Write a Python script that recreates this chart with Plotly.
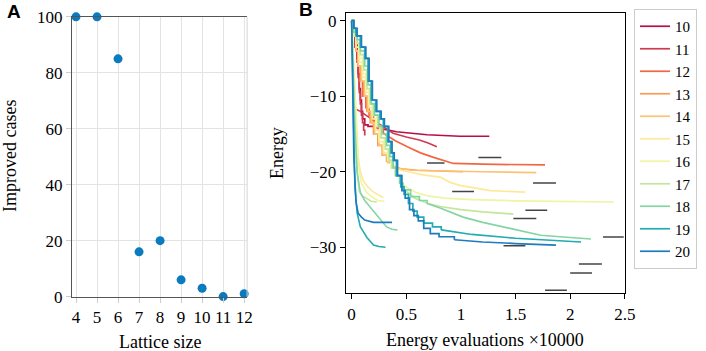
import plotly.graph_objects as go

# ---------------- Panel A data ----------------
lattice_sizes = [4, 5, 6, 7, 8, 9, 10, 11, 12]
improved_cases = [100, 100, 85, 16, 20, 6, 3, 0, 1]

# ---------------- Panel B data (energy vs evaluations x10000) ----------------
sizes = [10, 11, 12, 13, 14, 15, 16, 17, 18, 19, 20]
colors = ['#b80f47', '#cf3a4f', '#f26641', '#f99a55', '#fdc271', '#fee999',
          '#eef5a3', '#c5e59b', '#84d5a3', '#22abb0', '#1b7cc0']

# slow runs: staircase descent part
x10 = [0, 0.01, 0.03, 0.05, 0.06, 0.07, 0.08, 0.09, 0.10, 0.12, 0.15, 0.20]
e10 = [0, -1, -3, -5, -7, -9, -10.5, -12, -13, -13.8, -14.0, -14.1]
x11 = [0, 0.01, 0.03, 0.05, 0.06, 0.07, 0.08, 0.09, 0.10, 0.11, 0.12]
e11 = [0, -1.5, -3.5, -5.5, -7.5, -9.5, -11, -12.5, -13.5, -14.5, -15.2]
x12 = [0, 0.02, 0.04, 0.06, 0.08, 0.10, 0.13, 0.16, 0.20, 0.24, 0.29]
e12 = [0, -2, -4, -6, -8, -10, -11.5, -12.5, -13.5, -14.3, -14.9]
x13 = [0, 0.02, 0.04, 0.06, 0.08, 0.11, 0.14, 0.17, 0.20, 0.24, 0.28, 0.32, 0.37]
e13 = [0, -2, -4, -6, -8, -10, -12, -13.5, -15, -16.5, -17.8, -18.6, -19.2]
x14 = [0, 0.02, 0.04, 0.06, 0.09, 0.12, 0.15, 0.18, 0.21, 0.25, 0.29, 0.33, 0.38]
e14 = [0, -2, -4, -6, -8, -10, -12, -13.5, -15, -16.5, -17.8, -18.8, -19.3]
x15 = [0, 0.02, 0.04, 0.07, 0.10, 0.13, 0.16, 0.19, 0.22, 0.25, 0.29, 0.33, 0.37]
e15 = [0, -2, -3.5, -5.5, -7.5, -9.5, -11.5, -13, -14.5, -16, -17.5, -18.5, -19.3]
x16 = [0, 0.02, 0.04, 0.07, 0.10, 0.13, 0.16, 0.19, 0.23, 0.26, 0.30, 0.33, 0.36, 0.40, 0.45]
e16 = [0, -1.5, -3, -5, -7, -9, -11, -12.5, -14, -15.5, -17, -18.5, -19.5, -20.5, -21.5]
x17 = [0, 0.02, 0.05, 0.08, 0.11, 0.14, 0.17, 0.20, 0.24, 0.27, 0.31, 0.34, 0.37, 0.40, 0.44]
e17 = [0, -1.5, -3, -4.5, -6.5, -9, -11, -12.5, -14, -15.5, -17, -18.5, -19.5, -20.5, -21.5]
x18 = [0, 0.02, 0.05, 0.08, 0.12, 0.15, 0.18, 0.21, 0.25, 0.28, 0.32, 0.35, 0.38, 0.41, 0.44, 0.47, 0.54, 0.62, 0.69]
e18 = [0, -1.5, -2.5, -4, -6, -8.5, -11, -12.5, -14, -15, -16.5, -18, -19.5, -20.5, -21.5, -22.4, -23.3, -23.8, -24.2]
x19 = [0, 0.02, 0.04, 0.08, 0.12, 0.15, 0.18, 0.22, 0.26, 0.29, 0.33, 0.36, 0.38, 0.41, 0.45, 0.48, 0.52, 0.56, 0.60, 0.66, 0.74, 0.82]
e19 = [0, -1, -2, -3.5, -5, -8, -10.5, -12, -13, -14, -16, -17.5, -18.5, -20.5, -22.0, -23.0, -24.2, -25.2, -26.0, -26.8, -27.3, -27.7]
x20 = [0, 0.02, 0.05, 0.09, 0.13, 0.16, 0.19, 0.23, 0.27, 0.30, 0.34, 0.37, 0.39, 0.42, 0.46, 0.49, 0.53, 0.57, 0.61, 0.66, 0.72, 0.80, 0.94]
e20 = [0, -1, -2, -3.5, -5, -8, -10.5, -12, -13, -14, -16, -17.5, -18.5, -20.5, -22.5, -23.5, -25, -25.8, -26.5, -27.5, -28.2, -28.6, -29.0]

# slow runs: slowly converging tail part
tx10 = [0.20, 0.30, 0.41, 0.55, 0.69, 0.99, 1.26]
te10 = [-14.1, -14.4, -14.7, -14.9, -15.1, -15.3, -15.3]
tx12 = [0.29, 0.40, 0.51, 0.63, 0.75, 0.93, 1.2, 1.5, 1.77]
te12 = [-14.9, -15.9, -16.7, -17.5, -18.1, -18.9, -19.0, -19.05, -19.1]
tx13 = [0.37, 0.45, 0.6, 0.8, 1.02]
te13 = [-19.2, -19.6, -19.8, -19.9, -20.0]
tx14 = [0.38, 0.45, 0.55, 0.8, 1.2, 1.69]
te14 = [-19.3, -19.6, -19.8, -19.9, -20.0, -20.1]
tx15 = [0.37, 0.45, 0.55, 0.65, 0.81, 0.90, 0.99, 1.27, 1.59]
te15 = [-19.3, -19.8, -20.1, -20.4, -20.7, -21.4, -21.8, -22.5, -22.7]
tx16 = [0.45, 0.52, 0.60, 0.70, 0.85, 1.1, 1.5, 1.9, 2.4]
te16 = [-21.5, -22.2, -22.8, -23.2, -23.5, -23.7, -23.85, -23.95, -24.0]
tx17 = [0.44, 0.50, 0.58, 0.70, 0.81, 1.0, 1.2, 1.48]
te17 = [-21.5, -22.6, -23.5, -24.2, -24.6, -25.0, -25.3, -25.6]
tx18 = [0.69, 0.81, 1.02, 1.2, 1.45, 1.73, 2.0, 2.19]
te18 = [-24.2, -24.8, -26.0, -26.7, -27.5, -28.4, -28.7, -28.9]
tx19 = [0.82, 1.1, 1.5, 1.8, 2.1]
te19 = [-27.7, -28.3, -28.8, -29.1, -29.3]
tx20 = [0.94, 1.2, 1.5, 1.87]
te20 = [-29.0, -29.3, -29.5, -29.7]

# fast runs
fx10 = [0.05, 0.05]
fe10 = [-14.9, -15.5]
fx11 = [0.02, 0.08, 0.14, 0.20, 0.26, 0.32, 0.38, 0.50, 0.62, 0.70, 0.78]
fe11 = [-11.6, -12.0, -12.6, -13.2, -13.8, -14.4, -14.9, -15.4, -15.8, -16.2, -16.7]
fx15 = [0, 0.02, 0.04, 0.06, 0.08, 0.11, 0.15, 0.20, 0.25, 0.29]
fe15 = [0, -6, -13, -18, -20, -21.3, -22.0, -22.7, -23.1, -23.4]
fx16 = [0, 0.02, 0.04, 0.06, 0.09, 0.13, 0.18, 0.24, 0.30]
fe16 = [0, -6, -14, -19, -21.5, -22.6, -23.3, -23.8, -23.9]
fx17 = [0, 0.01, 0.03, 0.05, 0.07, 0.10, 0.14, 0.18, 0.23]
fe17 = [0, -6, -14, -20, -22.5, -23.2, -23.6, -23.9, -24.0]
fx18 = [0, 0.01, 0.03, 0.05, 0.08, 0.12, 0.16, 0.20, 0.26, 0.32, 0.37, 0.42]
fe18 = [0, -6, -14, -20, -22.8, -23.8, -24.5, -25.1, -26.3, -27.3, -27.6, -27.7]
fx19 = [0, 0.01, 0.02, 0.03, 0.05, 0.08, 0.11, 0.14, 0.17, 0.20, 0.25, 0.31]
fe19 = [0, -8, -16, -22, -25.4, -27.3, -28.0, -28.7, -29.2, -29.7, -29.9, -30.0]
fx20 = [0, 0.005, 0.01, 0.02, 0.04, 0.06, 0.09, 0.12, 0.20, 0.28, 0.37]
fe20 = [0, -5, -12, -18, -24, -25.5, -26.0, -26.4, -26.7, -26.7, -26.7]

# reference energy marks (black dashes): start x, end x, energy
ref_x0 = [0.69, 1.16, 1.66, 0.92, 1.59, 1.48, 2.30, 1.39, 2.08, 2.00, 1.77]
ref_x1 = [0.85, 1.37, 1.87, 1.12, 1.79, 1.69, 2.49, 1.59, 2.29, 2.20, 1.97]
ref_e = [-18.85, -18.1, -21.5, -22.6, -25.1, -26.2, -28.65, -29.8, -32.2, -33.4, -35.7]

stair_runs = [(x10, e10), (x11, e11), (x12, e12), (x13, e13), (x14, e14), (x15, e15),
              (x16, e16), (x17, e17), (x18, e18), (x19, e19), (x20, e20)]
tail_runs = {10: (tx10, te10), 12: (tx12, te12), 13: (tx13, te13), 14: (tx14, te14),
             15: (tx15, te15), 16: (tx16, te16), 17: (tx17, te17), 18: (tx18, te18),
             19: (tx19, te19), 20: (tx20, te20)}
fast_runs = {10: (fx10, fe10), 11: (fx11, fe11), 15: (fx15, fe15), 16: (fx16, fe16),
             17: (fx17, fe17), 18: (fx18, fe18), 19: (fx19, fe19), 20: (fx20, fe20)}

SERIF = 'Liberation Serif'
fig = go.Figure()

# Panel A
fig.add_trace(go.Scatter(x=lattice_sizes, y=improved_cases, mode='markers',
                         marker=dict(color='#0a7bbf', size=9), cliponaxis=False,
                         showlegend=False, xaxis='x', yaxis='y'))

# Panel B
for s, c, (xs, es) in zip(sizes, colors, stair_runs):
    if s in fast_runs:
        fxs, fes = fast_runs[s]
        fig.add_trace(go.Scatter(x=fxs, y=fes, mode='lines', line=dict(color=c, width=1.6),
                                 legendgroup=str(s), showlegend=False, xaxis='x2', yaxis='y2'))
    fig.add_trace(go.Scatter(x=xs, y=es, mode='lines', name=str(s),
                             line=dict(color=c, width=1.7, shape='hv'),
                             legendgroup=str(s), xaxis='x2', yaxis='y2'))
    if s in tail_runs:
        txs, tes = tail_runs[s]
        fig.add_trace(go.Scatter(x=txs, y=tes, mode='lines', line=dict(color=c, width=1.7),
                                 legendgroup=str(s), showlegend=False, xaxis='x2', yaxis='y2'))

for a, b, e in zip(ref_x0, ref_x1, ref_e):
    fig.add_trace(go.Scatter(x=[a, b], y=[e, e], mode='lines', line=dict(color='#444444', width=1.5),
                             showlegend=False, hoverinfo='skip', xaxis='x2', yaxis='y2'))

tickfont = dict(family=SERIF, size=17, color='black')
titlefont = dict(family=SERIF, size=18, color='black')
fig.update_layout(
    width=706, height=351, autosize=False,
    font=dict(family=SERIF, size=17, color='black'),
    margin=dict(l=0, r=0, t=0, b=0, pad=0, autoexpand=False),
    paper_bgcolor='white', plot_bgcolor='white',
    xaxis=dict(domain=[0.102, 0.35], range=[3.81, 12.14], tickvals=lattice_sizes,
               showgrid=True, gridcolor='#e3e3e3', gridwidth=1, zeroline=False,
               showline=True, linecolor='#555555', linewidth=1.2, mirror=True, automargin=False,
               ticks='outside', ticklen=5, tickcolor='#cccccc', tickfont=tickfont, anchor='y'),
    yaxis=dict(domain=[0.155, 0.952], range=[0, 100], tickvals=[0, 20, 40, 60, 80, 100],
               showgrid=True, gridcolor='#e3e3e3', gridwidth=1, zeroline=False,
               showline=True, linecolor='#555555', linewidth=1.2, automargin=False,
               ticks='outside', ticklen=5, tickcolor='#cccccc', tickfont=tickfont, anchor='x'),
    xaxis2=dict(domain=[0.490, 0.885], range=[-0.052, 2.5], tickvals=[0, 0.5, 1, 1.5, 2, 2.5],
                ticktext=['0', '0.5', '1', '1.5', '2', '2.5'], automargin=False,
                showgrid=False, zeroline=False, showline=True, linecolor='black', linewidth=1.3,
                mirror=True, ticks='outside', ticklen=5, tickcolor='black', tickfont=tickfont, anchor='y2'),
    yaxis2=dict(domain=[0.165, 0.963], range=[-36.06, 1.02], tickvals=[-30, -20, -10, 0],
                ticktext=['\u221230', '\u221220', '\u221210', '0'], automargin=False,
                showgrid=False, zeroline=False, showline=True, linecolor='black', linewidth=1.3,
                mirror=True, ticks='outside', ticklen=5, tickcolor='black', tickfont=tickfont, anchor='x2'),
    legend=dict(x=0.898, y=1 - 9 / 351, xanchor='left', yanchor='top',
                bordercolor='#cccccc', borderwidth=1, bgcolor='white',
                font=dict(family=SERIF, size=15, color='black'), itemwidth=30,
                tracegroupgap=0),
    shapes=[dict(type='line', xref='x domain', yref='y domain', x0=1, x1=1, y0=0, y1=1,
                 line=dict(color='#d5d5d5', width=1))],
    annotations=[
        dict(text='<b>A</b>', x=14 / 706, y=1 - 11 / 351, xref='paper', yref='paper',
             xanchor='center', yanchor='middle',
             showarrow=False, font=dict(family='Liberation Sans', size=19, color='black')),
        dict(text='<b>B</b>', x=306 / 706, y=1 - 10 / 351, xref='paper', yref='paper',
             xanchor='center', yanchor='middle',
             showarrow=False, font=dict(family='Liberation Sans', size=19, color='black')),
        dict(text='Improved cases', x=10 / 706, y=1 - 156 / 351, xref='paper', yref='paper',
             xanchor='center', yanchor='middle',
             showarrow=False, textangle=-90, font=titlefont),
        dict(text='Lattice size', x=160 / 706, y=1 - 342 / 351, xref='paper', yref='paper',
             xanchor='center', yanchor='middle', showarrow=False, font=titlefont),
        dict(text='Energy', x=277 / 706, y=1 - 153 / 351, xref='paper', yref='paper',
             xanchor='center', yanchor='middle',
             showarrow=False, textangle=-90, font=titlefont),
        dict(text='Energy evaluations \u00d710000', x=485 / 706, y=1 - 340 / 351, xref='paper',
             yref='paper', xanchor='center', yanchor='middle', showarrow=False, font=titlefont),
    ],
)

fig.write_html('out.html', config={'displayModeBar': False},
               post_script="document.body.style.margin='0';document.body.style.overflow='hidden';")
